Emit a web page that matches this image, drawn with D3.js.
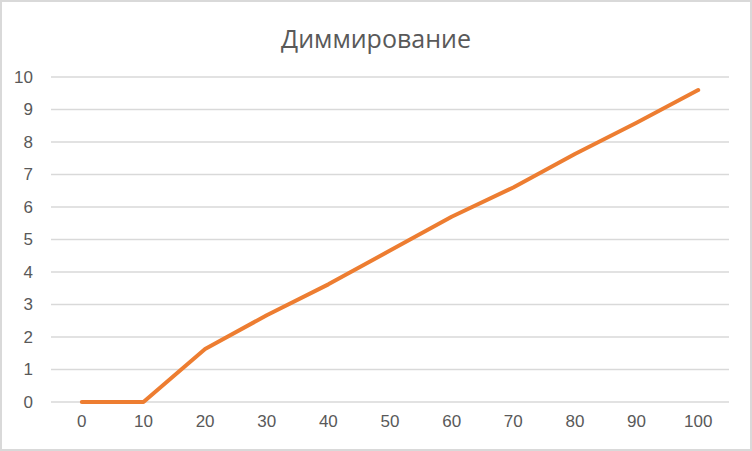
<!DOCTYPE html>
<html><head><meta charset="utf-8">
<script src="https://cdn.jsdelivr.net/npm/d3@7"></script>
<style>body{margin:0;background:#fff}svg{display:block}</style>
</head><body>
<svg id="c" width="752" height="451"></svg>
<script>
const categories = [0,10,20,30,40,50,60,70,80,90,100];
const values = [0,0,1.63,2.67,3.62,4.66,5.70,6.60,7.63,8.59,9.60];
const yTicks = [0,1,2,3,4,5,6,7,8,9,10];
const title = "Диммирование";

const W=752,H=451;
const svg=d3.select("#c");
svg.append("rect").attr("x",1).attr("y",1).attr("width",W-2).attr("height",H-2)
  .attr("fill","#fff").attr("stroke","#d9d9d9").attr("stroke-width",2);
const m={l:51,r:23,t:77,b:49};
const x=d3.scaleBand().domain(categories).range([m.l,W-m.r]);
const y=d3.scaleLinear().domain([0,10]).range([H-m.b,m.t]);
const font="'Liberation Sans Narrow','Liberation Sans',Arial,sans-serif";

svg.append("g").selectAll("line").data(yTicks).join("line")
  .attr("x1",m.l).attr("x2",W-m.r).attr("y1",d=>y(d)).attr("y2",d=>y(d))
  .attr("stroke","#d9d9d9").attr("stroke-width",1.5);

const ya=svg.append("g").attr("transform",`translate(${m.l},0)`)
  .call(d3.axisLeft(y).tickValues(yTicks).tickSize(0).tickPadding(18));
ya.select(".domain").remove();
ya.selectAll("text").attr("fill","#595959").style("font-family",font).style("font-size","17px");

const xa=svg.append("g").attr("transform",`translate(0,${H-m.b})`)
  .call(d3.axisBottom(x).tickSize(0).tickPadding(13));
xa.select(".domain").remove();
xa.selectAll("text").attr("fill","#595959").style("font-family",font).style("font-size","17px");

const line=d3.line().x((d,i)=>x(categories[i])+x.bandwidth()/2).y(d=>y(d));
svg.append("path").datum(values).attr("d",line).attr("fill","none")
  .attr("stroke","#ED7D31").attr("stroke-width",4).attr("stroke-linecap","round").attr("stroke-linejoin","round");

svg.append("text").attr("x",W/2).attr("y",48).attr("text-anchor","middle")
  .attr("fill","#595959").style("font-family","'Open Sans','DejaVu Sans',sans-serif").style("font-size","25px")
  .text(title);
</script>
</body></html>
